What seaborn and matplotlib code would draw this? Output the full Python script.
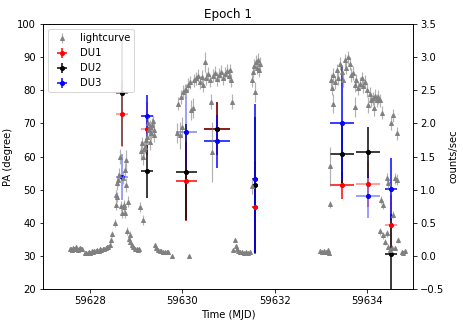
import numpy as np
import matplotlib
matplotlib.use("Agg")
import matplotlib.pyplot as plt
import seaborn as sns

# lightcurve, counts/sec on the right axis
LC_TIME = [
    59627.57, 59627.59, 59627.61, 59627.63, 59627.66, 59627.68, 59627.70, 59627.72, 59627.74, 59627.77,
    59627.79, 59627.81, 59627.83,
    59627.89, 59627.92, 59627.95, 59627.98, 59628.01, 59628.04, 59628.07, 59628.10, 59628.13, 59628.16,
    59628.19, 59628.22, 59628.25, 59628.28, 59628.31, 59628.34, 59628.37, 59628.40, 59628.43,
    59628.45, 59628.49, 59628.54, 59628.56, 59628.57, 59628.58, 59628.59, 59628.61, 59628.63, 59628.65,
    59628.67, 59628.69, 59628.71, 59628.74, 59628.75, 59628.76, 59628.77, 59628.78, 59628.79, 59628.81,
    59628.83, 59628.85, 59628.87, 59628.88, 59628.91, 59628.94, 59628.97, 59629.01, 59629.04, 59629.07,
    59629.08, 59629.10, 59629.12, 59629.14, 59629.15, 59629.17, 59629.19, 59629.21, 59629.23, 59629.26,
    59629.28, 59629.30, 59629.31, 59629.33, 59629.34, 59629.37, 59629.38, 59629.39,
    59629.41, 59629.44, 59629.48, 59629.52, 59629.55, 59629.59, 59629.62, 59629.66, 59629.69, 59629.77,
    59630.15,
    59629.88, 59629.91, 59629.95, 59629.98, 59629.99, 59630.02, 59630.06, 59630.09, 59630.12, 59630.16,
    59630.20, 59630.24, 59630.25, 59630.29, 59630.34, 59630.38, 59630.42, 59630.44, 59630.49, 59630.51,
    59630.55, 59630.60, 59630.63, 59630.64, 59630.66, 59630.71, 59630.75, 59630.79, 59630.83, 59630.88,
    59630.92, 59630.97, 59631.01, 59631.03, 59631.05, 59631.07,
    59631.10, 59631.14, 59631.16, 59631.18, 59631.20, 59631.25, 59631.29, 59631.33, 59631.38, 59631.42,
    59631.46, 59631.50,
    59631.51, 59631.53, 59631.55, 59631.57, 59631.59, 59631.61, 59631.64, 59631.66, 59631.68,
    59632.98, 59633.02, 59633.07, 59633.11, 59633.15, 59633.17, 59633.19, 59633.20,
    59633.21, 59633.23, 59633.26, 59633.27, 59633.30, 59633.34, 59633.37, 59633.41, 59633.45, 59633.48,
    59633.52, 59633.55, 59633.58, 59633.63, 59633.66, 59633.69, 59633.73, 59633.74, 59633.77, 59633.81,
    59633.84, 59633.88, 59633.92, 59633.95, 59633.99, 59634.02, 59634.06, 59634.09, 59634.13, 59634.14,
    59634.17, 59634.21, 59634.24, 59634.28, 59634.32,
    59634.27, 59634.31, 59634.34, 59634.35, 59634.38, 59634.42, 59634.43, 59634.45, 59634.46, 59634.49,
    59634.52, 59634.53, 59634.56, 59634.57, 59634.60, 59634.61, 59634.64, 59634.65, 59634.67, 59634.75,
    59634.78, 59634.82,
]
LC_RATE = [
    0.10, 0.11, 0.09, 0.12, 0.10, 0.11, 0.13, 0.10, 0.09, 0.11,
    0.12, 0.10, 0.11,
    0.04, 0.05, 0.04, 0.06, 0.05, 0.07, 0.06, 0.08, 0.07, 0.09,
    0.08, 0.10, 0.09, 0.11, 0.10, 0.12, 0.13, 0.14, 0.17,
    0.24, 0.33, 0.50, 0.77, 0.92, 0.89, 1.10, 1.15, 1.22, 1.50,
    0.75, 0.65, 1.18, 0.74, 0.77, 0.65, 1.30, 1.45, 1.07, 0.38,
    0.82, 0.26, 0.32, 0.21, 0.17, 0.14, 0.11, 0.10, 0.09, 0.10,
    0.74, 1.59, 1.70, 0.54, 1.49, 1.62, 1.65, 1.75, 1.80, 2.00,
    1.90, 1.72, 1.95, 1.85, 1.98, 2.03, 1.90, 1.82,
    0.16, 0.12, 0.09, 0.08, 0.08, 0.06, 0.06, 0.06, 0.06, 0.00,
    0.00,
    1.86, 2.30, 1.82, 2.40, 1.95, 2.48, 2.50, 2.50, 2.58, 2.62,
    2.20, 2.23, 2.65, 2.68, 2.72, 2.62, 2.70, 2.58, 2.93, 2.68,
    2.75, 2.65, 2.33, 1.57, 2.72, 2.76, 2.67, 2.73, 2.78, 2.68,
    2.75, 2.79, 2.72, 2.80, 2.65, 2.33,
    0.09, 0.24, 0.15, 0.10, 0.07, 0.06, 0.06, 0.05, 0.06, 0.05,
    0.06, 1.05,
    2.65, 2.78, 2.87, 2.48, 2.93, 2.84, 2.96, 2.80, 2.90,
    0.07, 0.06, 0.07, 0.06, 0.09, 0.05, 1.35, 0.78,
    2.65, 2.53, 2.73, 2.30, 2.62, 2.80, 2.68, 2.90, 2.78, 2.65,
    2.95, 2.84, 3.00, 2.90, 2.73, 2.76, 2.58, 2.25, 2.65, 2.53,
    2.60, 2.68, 2.56, 2.63, 2.50, 2.28, 2.45, 2.35, 2.38, 2.23,
    2.42, 2.35, 2.40, 2.35, 2.16,
    0.37, 0.84, 0.31, 0.77, 0.21, 0.34, 1.17, 0.14, 1.10, 0.09,
    2.00, 0.12, 2.12, 0.62, 1.17, 0.12, 1.85, 1.15, 0.24, 0.06,
    0.05, 0.07,
]
LC_ERR = [
    0.03, 0.03, 0.03, 0.03, 0.03, 0.03, 0.03, 0.03, 0.03, 0.03,
    0.03, 0.03, 0.03,
    0.03, 0.03, 0.03, 0.03, 0.03, 0.03, 0.03, 0.03, 0.03, 0.03,
    0.03, 0.03, 0.03, 0.03, 0.03, 0.03, 0.03, 0.03, 0.03,
    0.04, 0.05, 0.06, 0.08, 0.08, 0.08, 0.10, 0.10, 0.10, 0.12,
    0.08, 0.08, 0.10, 0.08, 0.08, 0.08, 0.10, 0.15, 0.10, 0.06,
    0.08, 0.05, 0.05, 0.04, 0.04, 0.03, 0.03, 0.03, 0.03, 0.03,
    0.08, 0.15, 0.10, 0.08, 0.12, 0.10, 0.10, 0.10, 0.10, 0.10,
    0.10, 0.12, 0.10, 0.10, 0.10, 0.10, 0.10, 0.10,
    0.04, 0.04, 0.03, 0.03, 0.03, 0.03, 0.03, 0.03, 0.03, 0.03,
    0.03,
    0.15, 0.10, 0.20, 0.10, 0.15, 0.10, 0.10, 0.10, 0.10, 0.10,
    0.15, 0.15, 0.10, 0.10, 0.10, 0.10, 0.10, 0.10, 0.15, 0.10,
    0.10, 0.10, 0.12, 0.45, 0.10, 0.10, 0.10, 0.10, 0.10, 0.10,
    0.10, 0.10, 0.10, 0.10, 0.10, 0.12,
    0.03, 0.03, 0.03, 0.03, 0.03, 0.03, 0.03, 0.03, 0.03, 0.03,
    0.03, 0.12,
    0.10, 0.10, 0.10, 0.15, 0.10, 0.10, 0.10, 0.10, 0.10,
    0.03, 0.03, 0.03, 0.03, 0.03, 0.03, 0.30, 0.05,
    0.10, 0.10, 0.10, 0.15, 0.10, 0.10, 0.10, 0.10, 0.10, 0.10,
    0.10, 0.10, 0.10, 0.10, 0.10, 0.10, 0.10, 0.15, 0.10, 0.10,
    0.10, 0.10, 0.10, 0.10, 0.10, 0.12, 0.10, 0.10, 0.10, 0.12,
    0.10, 0.10, 0.10, 0.10, 0.10,
    0.05, 0.06, 0.05, 0.06, 0.04, 0.05, 0.08, 0.04, 0.08, 0.03,
    0.10, 0.04, 0.10, 0.05, 0.08, 0.03, 0.10, 0.08, 0.04, 0.03,
    0.03, 0.03,
]

# polarization angle per detector unit (degree)
DU_TIME = [59628.69, 59629.23, 59630.09, 59630.76, 59631.57, 59633.46, 59634.02, 59634.52]
DU_TERR = [0.13, 0.13, 0.22, 0.28, 0.07, 0.26, 0.25, 0.13]

DU1_PA = [72.9, 68.4, 52.5, 68.4, 44.7, 51.3, 51.7, 39.3]
DU1_ERR = [10.0, 8.0, 12.0, 8.0, 14.0, 4.0, 7.0, 9.0]
DU2_PA = [79.1, 55.6, 55.3, 68.4, 51.5, 60.9, 61.3, 30.5]
DU2_ERR = [16.0, 8.0, 14.5, 8.0, 20.5, 9.0, 7.7, 12.0]
DU3_PA = [53.9, 72.3, 67.4, 64.6, 53.3, 70.0, 48.1, 50.1]
DU3_ERR = [7.0, 6.3, 10.6, 8.0, 22.5, 17.0, 6.8, 9.4]

# how faded each error bar looks
DU1_ALPHA = [0.5, 0.5, 1.0, 1.0, 1.0, 1.0, 0.5, 0.5]
DU2_ALPHA = [0.6, 1.0, 1.0, 0.6, 1.0, 1.0, 1.0, 1.0]
DU3_ALPHA = [0.5, 1.0, 0.5, 1.0, 1.0, 1.0, 0.5, 1.0]


def draw_du(ax, pa, err, alphas, color, label):
    """Draw one detector unit point by point so each bar can have its own alpha."""
    for i, t in enumerate(DU_TIME):
        cont = ax.errorbar(t, pa[i], xerr=DU_TERR[i], yerr=err[i], fmt='o',
                           color=color, ms=4, elinewidth=1.5)
        for coll in cont[2]:
            coll.set_alpha(alphas[i])
    # proxy for the legend
    return ax.errorbar([np.nan], [np.nan], xerr=[0.1], yerr=[1.0], fmt='o',
                       color=color, ms=4, elinewidth=1.5, label=label)


sns.set_style("ticks", {"axes.edgecolor": "black", "xtick.color": "black",
                        "ytick.color": "black", "text.color": "black",
                        "axes.labelcolor": "black"})
plt.rcParams['font.family'] = ['DejaVu Sans']

fig = plt.figure(figsize=(463 / 72, 327 / 72), dpi=72)
ax = fig.add_axes([0.0922, 0.1162, 0.8005, 0.8104])
ax2 = ax.twinx()

h1 = draw_du(ax, DU1_PA, DU1_ERR, DU1_ALPHA, 'red', 'DU1')
h2 = draw_du(ax, DU2_PA, DU2_ERR, DU2_ALPHA, 'black', 'DU2')
h3 = draw_du(ax, DU3_PA, DU3_ERR, DU3_ALPHA, 'blue', 'DU3')

lc = ax2.errorbar(LC_TIME, LC_RATE, yerr=LC_ERR, fmt='^', color='gray', ms=4,
                  elinewidth=1.2, label='lightcurve')
for coll in lc[2]:
    coll.set_alpha(0.6)

ax.set_xlim(59626.98, 59635.0)
ax.set_ylim(20, 100)
ax2.set_ylim(-0.5, 3.5)
ax.set_xticks([59628, 59630, 59632, 59634])
ax.ticklabel_format(axis='x', useOffset=False, style='plain')
ax.set_yticks(np.arange(20, 101, 10))
ax2.set_yticks(np.arange(-0.5, 3.51, 0.5))

ax.tick_params(labelsize=10)
ax2.tick_params(labelsize=10)
ax.set_xlabel('Time (MJD)', fontsize=10)
ax.set_ylabel('PA (degree)', fontsize=10)
ax2.set_ylabel('counts/sec', fontsize=10)
ax.set_title('Epoch 1', fontsize=12)

ax2.legend([lc, h1, h2, h3], ['lightcurve', 'DU1', 'DU2', 'DU3'],
           loc='upper left', fontsize=10)

fig.savefig('out.png', dpi=72)
